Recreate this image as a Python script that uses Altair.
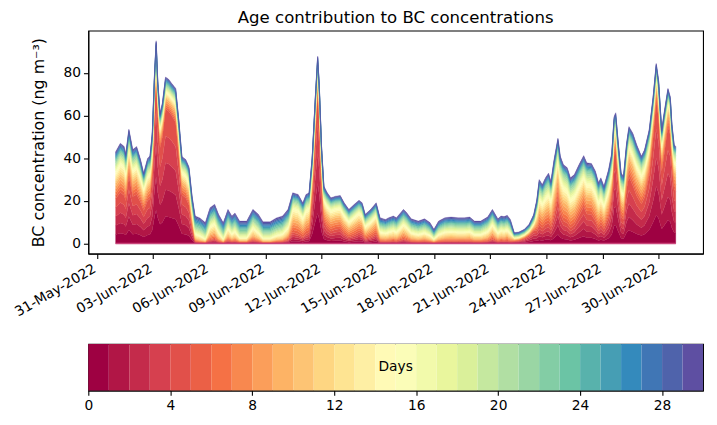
import altair as alt
import pandas as pd

# hours after 2022-06-01 00:00 at which the envelope was read
HOURS = [0, 6, 11, 13, 17, 22, 27, 32, 36, 41, 44, 47,
         50, 52, 54, 57, 60, 64, 68, 72, 77, 81, 85, 90, 94, 98,
         102, 108, 115, 121, 127, 132, 138, 144, 149, 153, 159, 168, 176, 183, 189, 198, 206, 214, 221,
         227, 234, 240, 244, 248,
         252, 256, 259, 261, 264,
         267, 271, 276, 282, 288, 293, 299, 306, 312, 316, 320, 327, 334,
         339, 346, 350, 356, 360, 369, 373, 379, 388, 396, 403, 408, 414, 422, 430, 439, 447, 454, 460, 468, 477, 483, 490, 494, 498, 502, 506,
         511, 517, 524, 530, 536,
         540, 543, 547, 551, 555, 558, 562, 567, 570, 574, 579, 583, 588, 594, 600, 604, 610, 615, 619, 622, 626, 632, 636,
         639, 641, 644, 648, 651, 655, 658, 663, 668, 674, 678, 684, 689, 693, 696, 700, 703, 708, 711, 713, 716, 718]

# total BC (ng m-3)
TOTAL = [43, 47, 45.5, 42, 53.6, 44, 45.5, 39.3, 33, 40, 41, 52,
         81, 95, 76.6, 61, 66, 78, 77, 75, 72.7, 58, 40.8, 39.3, 36, 22.2,
         12.9, 12, 9.8, 16.8, 18.4, 13.7, 9.8, 16, 12.9, 14.3, 10.5, 10.5, 16, 13.7, 10.2, 10.2, 12, 12.9, 16,
         23.8, 23, 19.1, 23, 23.8,
         40.8, 68.8, 87.8, 75, 45.5,
         26.9, 24, 21.4, 22.2, 22.5, 19.1, 16, 18.4, 20.3, 19.1, 13.7, 16, 19.1,
         12.1, 11.3, 12.1, 12.9, 12.1, 16, 14.5, 11.6, 10.5, 11.6, 9.8, 6.7, 10.5, 12.1, 12.4, 12.1, 12.1, 12.4, 10.5, 10.5, 12.5, 16, 11.6, 12.9, 12.6, 13.2, 11.3,
         5.1, 5.4, 6.7, 9, 13.7,
         20.7, 30, 27.7, 30.8, 33, 29.2, 39.3, 49.4, 41, 37, 35.5, 30.8, 32.3, 37, 41.2, 37.8, 37.5, 34, 28.6, 30.8, 26.9, 34.8, 42.5,
         59.5, 61.3, 48.6, 33, 31.6, 47.1, 54.8, 51.7, 46.3, 41, 44, 53.4, 68.8, 84.4, 76.6, 53.4, 61, 72.7, 68.8, 56.4, 46.3, 45.5]

# contribution of ages 22-29 days
G5 = [4.5, 4.5, 4.5, 4.5, 4, 4.5, 4.5, 4, 3.5, 4, 4, 4,
      3.5, 3.5, 3.5, 3.5, 3.5, 3.5, 3.5, 3.5, 3.5, 3.5, 3.5, 3.5, 3.5, 3.5,
      4.8, 4.8, 4.6, 4.8, 4.8, 4.8, 4.6, 4.8, 4.8, 4.8, 4.6, 4.6, 4.5, 4.8, 4.6, 4.6, 4.8, 4.8, 4.5,
      3.5, 3.5, 3.5, 3.5, 3.5,
      3.2, 3, 3, 3, 3,
      3, 3, 2.8, 2.8, 2.8, 2.8, 2.8, 2.8, 2.8, 2.8, 2.8, 2.8, 2.8,
      3.5, 3.4, 3.5, 3.5, 3.5, 3.5, 3.5, 3.4, 3.3, 3.4, 3.2, 2.6, 3.3, 3.5, 3.5, 3.5, 3.5, 3.5, 3.3, 3.3, 3.5, 3.5, 3.4, 3.5, 3.5, 3.5, 3.4,
      1.4, 1.4, 1.5, 1.8, 2.5,
      3, 4, 4, 4, 4.5, 4, 4.5, 4, 4.5, 4.5, 4.5, 4.5, 4.5, 4.5, 4.5, 4.5, 4.5, 4.5, 4.2, 4.2, 4, 4.2, 4,
      3.5, 3.5, 3.5, 3.8, 3.8, 3.8, 4, 4.5, 4.5, 4, 4, 3.8, 3.5, 3.2, 3.2, 3.5, 3.5, 3.2, 3.2, 3.5, 3.5, 3.5]

# contribution of ages 16-21 days
G4 = [4.5, 4.5, 4.5, 4.5, 4, 4.5, 4.5, 4, 3.5, 4, 4, 4,
      3, 3, 3, 3, 3, 3, 3, 3, 3, 3, 3.5, 3.5, 3.5, 3,
      3.2, 3.2, 2.8, 3.6, 3.8, 3.4, 2.8, 3.6, 3.2, 3.4, 3, 3, 3.8, 3.4, 2.9, 2.9, 3.2, 3.3, 3.6,
      3.5, 3.5, 3.2, 3.5, 3.5,
      3.2, 3, 3, 3, 3.2,
      3, 3, 2.8, 2.8, 2.8, 2.8, 2.6, 2.8, 2.8, 2.8, 2.5, 2.6, 2.8,
      2.8, 2.7, 2.8, 2.9, 2.8, 3.2, 3, 2.8, 2.6, 2.8, 2.5, 1.8, 2.6, 2.8, 2.9, 2.8, 2.8, 2.9, 2.6, 2.6, 2.9, 3.2, 2.8, 2.9, 2.9, 2.9, 2.7,
      1, 1, 1, 1.2, 1.8,
      3, 4.5, 4.5, 5, 5, 4.5, 5.5, 5, 5.5, 5.5, 5.5, 5, 5, 5, 5, 5, 5, 5, 4.6, 4.8, 4.5, 4.8, 4.5,
      3.5, 3.5, 4, 4.2, 4.2, 4.2, 4.5, 5, 5, 4.5, 4.5, 4.2, 3.5, 3.2, 3.2, 3.5, 3.5, 3.2, 3.2, 3.5, 4, 4]

# contribution of ages 10-15 days
G3 = [6, 6.5, 6.5, 6, 6, 6, 6, 5.5, 4.5, 5.5, 5.5, 5.5,
      4, 4, 4, 4, 4, 3.5, 3.5, 3.5, 4, 4.5, 5, 5, 5, 4,
      2.6, 2.4, 1.4, 4, 4.5, 3, 1.4, 3.8, 2.6, 3.2, 1.6, 1.6, 3.8, 3, 1.6, 1.6, 2.2, 2.6, 3.8,
      5.5, 5.5, 4.5, 5.5, 5.5,
      5, 4.5, 4, 4.5, 5,
      4.5, 4.5, 4.5, 4.5, 4.5, 4, 3.5, 4, 4.3, 4, 3.2, 3.5, 4,
      2.9, 2.6, 2.9, 3.1, 2.9, 4, 3.6, 2.7, 2.4, 2.7, 2.2, 1.2, 2.4, 2.9, 3, 2.9, 2.9, 3, 2.4, 2.4, 3, 4, 2.7, 3.1, 3, 3.2, 2.6,
      0.8, 0.8, 0.9, 1.1, 1.6,
      4, 6, 5.5, 6, 6.5, 6, 7.5, 8, 7.5, 7.5, 7.5, 6.5, 6.5, 6.5, 6.5, 6.5, 6.5, 6.5, 6, 6, 5.5, 6, 5.5,
      4.5, 4.5, 5, 5.5, 5.5, 5.5, 6, 6, 6, 6, 6, 5.5, 4.5, 4, 4, 5, 5, 4.5, 4.5, 5, 5.5, 5.5]

# contribution of ages 5-9 days
G2 = [7, 7.5, 7.5, 7, 8, 7, 7.5, 6.5, 6, 6.5, 6.5, 7,
      6, 6, 6, 5.5, 5.5, 5, 5, 5, 5.5, 6, 6, 6, 6, 4,
      1.4, 1, 0.5, 2.8, 3.2, 1.6, 0.5, 2.4, 1.4, 1.8, 0.7, 0.7, 2.4, 1.6, 0.6, 0.6, 1.1, 1.3, 2.4,
      6, 6, 4.8, 6, 6,
      7, 7, 7, 7, 7,
      6, 6, 5.5, 5.5, 5.5, 5, 4, 4.8, 5.2, 5, 3, 4, 5,
      1.9, 1.7, 1.9, 2.2, 1.9, 3.3, 2.8, 1.8, 1.4, 1.8, 1.2, 0.6, 1.4, 1.9, 2, 1.9, 1.9, 2, 1.4, 1.4, 2, 3.3, 1.8, 2.2, 2.1, 2.4, 1.7,
      0.8, 0.8, 0.9, 1.1, 1.8,
      4.5, 7, 6.5, 7, 7.5, 7, 9, 11, 9.5, 9, 8.5, 7.5, 7.5, 8, 8, 8, 8, 7.5, 6.5, 7, 6, 7.5, 7.5,
      6.5, 6.5, 7, 7, 7, 8, 9, 9, 8.5, 8, 8, 8, 7.5, 7, 7, 7.5, 7.5, 7, 7, 7.5, 8, 8]

for name, arr in [("TOTAL", TOTAL), ("G5", G5), ("G4", G4), ("G3", G3), ("G2", G2)]:
    assert len(arr) == len(HOURS), (name, len(arr), len(HOURS))

DAYS = list(range(30))
GROUPS = [(0, 5), (5, 10), (10, 16), (16, 22), (22, 30)]
X_TICK_DATES = [(5, 31), (6, 3), (6, 6), (6, 9), (6, 12), (6, 15), (6, 18),
                (6, 21), (6, 24), (6, 27), (6, 30)]
CB_TICKS = [0, 4, 8, 12, 16, 20, 24, 28]

# Spectral colormap sampled to 30 levels
ANCHORS = ["#9e0142", "#d53e4f", "#f46d43", "#fdae61", "#fee08b", "#ffffbf",
           "#e6f598", "#abdda4", "#66c2a5", "#3288bd", "#5e4fa2"]


def spectral(t):
    pos = t * 10
    i = min(int(pos), 9)
    f = pos - i
    a = ANCHORS[i]
    b = ANCHORS[i + 1]
    ca = [int(a[k:k + 2], 16) for k in (1, 3, 5)]
    cb = [int(b[k:k + 2], 16) for k in (1, 3, 5)]
    c = [round(ca[j] + (cb[j] - ca[j]) * f) for j in range(3)]
    return "#%02x%02x%02x" % tuple(c)


COLORS = [spectral(d / 29) for d in DAYS]

base = pd.Timestamp("2022-06-01 00:00:00")
rows = []
for i, h in enumerate(HOURS):
    t = base + pd.Timedelta(hours=h)
    g1 = max(TOTAL[i] - G5[i] - G4[i] - G3[i] - G2[i], 0.0)
    gvals = [g1, G2[i], G3[i], G4[i], G5[i]]
    for gi, (a, b) in enumerate(GROUPS):
        for d in range(a, b):
            rows.append({"time": t, "day": d, "bc": gvals[gi] / (b - a)})
df = pd.DataFrame(rows)

FONT = "DejaVu Sans"
LBL = 13.9

x_dom = [alt.DateTime(year=2022, month=5, date=30, hours=13),
         alt.DateTime(year=2022, month=7, date=2, hours=9)]
x_vals = [alt.DateTime(year=2022, month=m, date=d) for m, d in X_TICK_DATES]

area = alt.Chart(df).mark_area(interpolate="linear", strokeWidth=0.3).encode(
    x=alt.X("time:T", scale=alt.Scale(domain=x_dom),
            axis=alt.Axis(values=x_vals, format="%d-%b-%Y", labelAngle=-30,
                          labelAlign="right", labelBaseline="top", title=None,
                          labelOverlap=False, labelOffset=-6, labelFontSize=LBL)),
    y=alt.Y("bc:Q", stack="zero",
            scale=alt.Scale(domain=[-4.75, 99.75], nice=False, zero=False),
            axis=alt.Axis(values=[0, 20, 40, 60, 80],
                          title="BC concentration (ng m⁻³)",
                          titleFontSize=16, titleFontWeight="normal",
                          titlePadding=17, labelFontSize=LBL)),
    color=alt.Color("day:O", scale=alt.Scale(domain=DAYS, range=COLORS), legend=None),
    stroke=alt.Stroke("day:O", scale=alt.Scale(domain=DAYS, range=COLORS), legend=None),
    order=alt.Order("day:Q", sort="ascending"),
)

zero_df = pd.DataFrame({"time": [base + pd.Timedelta(hours=HOURS[0]),
                                 base + pd.Timedelta(hours=HOURS[-1])],
                        "bc": [0.0, 0.0]})
zero_line = alt.Chart(zero_df).mark_line(color="#c9447a", strokeWidth=1.5).encode(
    x="time:T", y="bc:Q")

main = alt.layer(area, zero_line).properties(
    width=620, height=225,
    title=alt.Title("Age contribution to BC concentrations", fontSize=16.7,
                    fontWeight="normal", font=FONT, color="black", offset=3.5),
)

cb_df = pd.DataFrame({"day": DAYS, "day2": [d + 1 for d in DAYS], "color": COLORS})
cb_rects = alt.Chart(cb_df).mark_rect().encode(
    x=alt.X("day:Q", scale=alt.Scale(domain=[0, 30], nice=False, zero=False),
            axis=alt.Axis(values=CB_TICKS, title=None, labelAngle=0,
                          labelAlign="center", labelBaseline="top",
                          labelFontSize=LBL)),
    x2="day2:Q",
    color=alt.Color("color:N", scale=None, legend=None),
)
cb_text = alt.Chart(pd.DataFrame({"x": [15], "label": ["Days"]})).mark_text(
    font=FONT, fontSize=LBL, color="black").encode(x="x:Q", text="label:N")
cbar = alt.layer(cb_rects, cb_text).properties(width=620, height=47)

chart = alt.vconcat(main, cbar, spacing=91, bounds="flush").configure(
    font=FONT, padding={"left": 3, "top": 0, "right": 5, "bottom": 5}
).configure_view(stroke="black", strokeWidth=1.1).configure_axis(
    labelFont=FONT, titleFont=FONT, labelColor="black", titleColor="black",
    tickColor="black", domainColor="black", tickSize=4.9, tickWidth=1.1,
    domainWidth=1.1, labelPadding=3, grid=False,
)

chart.save("out.html", embed_options={"renderer": "svg", "actions": False})
